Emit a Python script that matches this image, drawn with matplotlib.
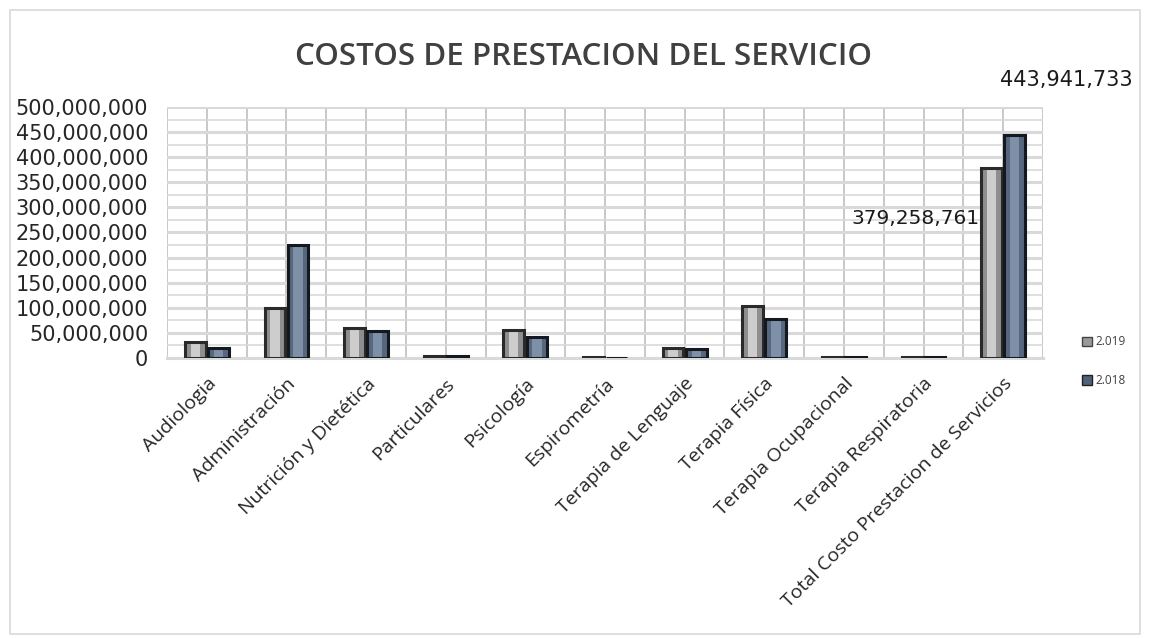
import matplotlib.pyplot as plt
import matplotlib.ticker as ticker
from matplotlib.patches import Rectangle, Patch
import numpy as np

categorias = ['Audiologia', 'Administración', 'Nutrición y Dietética', 'Particulares',
              'Psicología', 'Espirometría', 'Terapia de Lenguaje', 'Terapia Física',
              'Terapia Ocupacional', 'Terapia Respiratoria', 'Total Costo Prestacion de Servicios']
v2019 = [31e6, 100e6, 59e6, 4e6, 55e6, 2e6, 20e6, 104e6, 2.5e6, 2.5e6, 379258761]
v2018 = [20e6, 225e6, 53e6, 4e6, 42e6, 0.5e6, 18e6, 77e6, 2.5e6, 2.5e6, 443941733]

plt.rcParams['font.family'] = ['Open Sans', 'DejaVu Sans']

fig = plt.figure(figsize=(11.5, 6.38), dpi=100)
fig.patches.append(Rectangle((0.009, 0.006), 0.982, 0.978, transform=fig.transFigure,
                             fill=False, edgecolor='#d9d9d9', linewidth=1.2))
ax = fig.add_axes([0.1452, 0.4389, 0.7618, 0.3934])

x = np.arange(len(categorias))
w = 0.26
# bevelled look: darker body, lighter centre strip, dark outline on top
ax.bar(x - 0.145, v2019, w, color='#8e8e8e', linewidth=0, zorder=3)
ax.bar(x - 0.145, v2019, w * 0.45, color='#cdcdcd', linewidth=0, zorder=4)
ax.bar(x - 0.145, v2019, w, facecolor='none', edgecolor='#2a2a2a', linewidth=2.2, zorder=5)
ax.bar(x + 0.145, v2018, w, color='#56677e', linewidth=0, zorder=3)
ax.bar(x + 0.145, v2018, w * 0.45, color='#7d90a8', linewidth=0, zorder=4)
ax.bar(x + 0.145, v2018, w, facecolor='none', edgecolor='#141920', linewidth=2.2, zorder=5)

ax.set_xlim(-0.5, 10.5)
ax.set_ylim(0, 500e6)
ax.yaxis.set_major_locator(ticker.MultipleLocator(50e6))
ax.yaxis.set_minor_locator(ticker.MultipleLocator(25e6))
ax.yaxis.set_major_formatter(ticker.FuncFormatter(lambda v, p: '{:,.0f}'.format(v)))
ax.xaxis.set_minor_locator(ticker.MultipleLocator(0.5))
ax.set_xticks(x)
ax.set_xticklabels(categorias, rotation=45, ha='right', rotation_mode='anchor',
                   fontsize=14, color='#262626')
ax.tick_params(axis='y', length=0, pad=13.5)
ax.tick_params(axis='x', length=0, pad=12)
ax.tick_params(which='minor', length=0)
for lab in ax.get_yticklabels():
    lab.set_family('DejaVu Sans')
    lab.set_fontsize(15)
    lab.set_color('#262626')

ax.grid(which='major', axis='y', color='#d9d9d9', linewidth=2.2, zorder=0)
ax.grid(which='minor', axis='y', color='#d9d9d9', linewidth=1.2, zorder=0)
ax.grid(which='both', axis='x', color='#c4c4c4', linewidth=1.3, zorder=0)
for s in ['top', 'right', 'left']:
    ax.spines[s].set_visible(False)
ax.spines['bottom'].set_color('#d9d9d9')
ax.spines['bottom'].set_linewidth(2.2)

ax.text(x[-1] - 0.3, 277e6, '{:,.0f}'.format(v2019[-1]), ha='right', va='center',
        fontsize=14.5, color='#1a1a1a', family='DejaVu Sans')
ax.text(x[-1] - 0.04, 553e6, '{:,.0f}'.format(v2018[-1]), ha='left', va='center',
        fontsize=15, color='#1a1a1a', clip_on=False, family='DejaVu Sans')

fig.text(0.507, 0.911, 'COSTOS DE PRESTACION DEL SERVICIO', ha='center', va='center',
         fontsize=22.5, color='#404040', fontweight='semibold')

handles = [Patch(facecolor='#9a9a9a', edgecolor='#444444'),
           Patch(facecolor='#50627a', edgecolor='#222222')]
fig.legend(handles, ['2.019', '2.018'], loc='center left', bbox_to_anchor=(0.932, 0.434),
           frameon=False, fontsize=8.5, handlelength=0.8, handleheight=0.8,
           handletextpad=0.3, labelspacing=2.2, labelcolor='#404040')

fig.savefig('out.png', dpi=100)
